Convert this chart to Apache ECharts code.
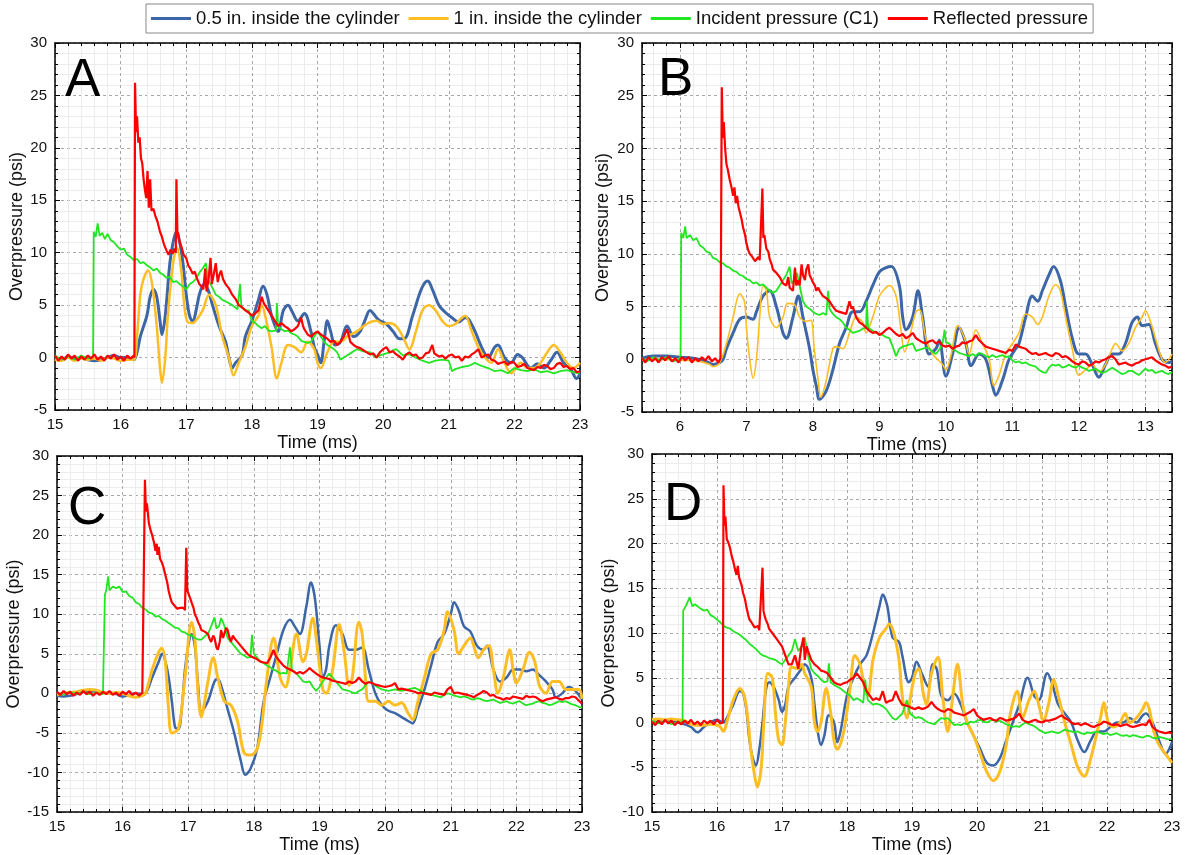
<!DOCTYPE html>
<html lang="en">
<head>
    <meta charset="UTF-8">
    <title>Overpressure</title>
    <style>
        html, body { margin: 0; padding: 0; background: #fff; }
        #main { width: 1186px; height: 855px; }
    </style>
</head>
<body>
    <div id="main"></div>
    <script src="https://cdn.jsdelivr.net/npm/echarts@6/dist/echarts.min.js"></script>
    <script>
        // series names (legend)
        const seriesNames = ['0.5 in. inside the cylinder', '1 in. inside the cylinder', 'Incident pressure (C1)', 'Reflected pressure'];
        const panelLetters = ['A', 'B', 'C', 'D'];

        // ---- panel A : [time ms, psi]
        const aBlue = [[15,0],[15.1,-0.2],[15.2,0.1],[15.3,-0.1],[15.4,0],[15.5,-0.2],[15.6,-0.3],[15.7,-0.2],[15.8,0],[15.9,0.2],[16.0,0],[16.1,0],[16.2,-0.2],[16.25,0.5],[16.3,2],[16.4,4],[16.45,5.8],[16.5,6.5],[16.55,5.8],[16.6,3.5],[16.63,2.2],[16.68,4],[16.75,9],[16.8,11],[16.85,12],[16.9,11],[16.95,9],[17.0,6],[17.05,4],[17.1,3.4],[17.15,4.5],[17.2,6],[17.27,7],[17.33,6.5],[17.4,5],[17.5,3],[17.6,1.5],[17.65,0],[17.7,-1],[17.75,-0.5],[17.85,0.2],[17.9,2],[18.0,3.5],[18.1,5.5],[18.17,6.8],[18.23,6],[18.3,4],[18.4,2.5],[18.48,4.5],[18.55,5],[18.62,4.3],[18.7,3.5],[18.8,4.2],[18.9,2.5],[18.95,1],[19.0,0.3],[19.05,-0.5],[19.1,1.5],[19.15,3.5],[19.2,2.5],[19.27,1.2],[19.35,1.5],[19.45,3],[19.55,2],[19.65,2.5],[19.72,3.5],[19.8,4.5],[19.9,3.8],[19.95,3.5],[20.05,3.2],[20.15,2.5],[20.25,1.8],[20.32,1.8],[20.45,4],[20.55,6],[20.62,7],[20.68,7.3],[20.75,6.5],[20.85,5],[20.95,4.3],[21.05,3.8],[21.15,3.4],[21.25,3.8],[21.3,3.7],[21.4,2.5],[21.5,1],[21.6,0],[21.7,1],[21.75,1.2],[21.85,0],[21.95,-0.5],[22.05,0.3],[22.12,0],[22.25,-1],[22.35,-0.6],[22.45,-1],[22.55,-0.3],[22.65,0.5],[22.75,-0.5],[22.85,-1],[22.95,-2],[23.0,-1.5]];
        const aYellow = [[15,-0.2],[15.1,-0.3],[15.2,0],[15.3,-0.3],[15.4,-0.1],[15.5,-0.2],[15.6,-0.1],[15.7,-0.3],[15.8,0],[15.9,-0.1],[16.0,-0.3],[16.1,-0.2],[16.2,-0.2],[16.25,2],[16.3,6],[16.35,7.5],[16.42,8.3],[16.48,7],[16.55,3],[16.6,-1],[16.63,-2.4],[16.68,0],[16.72,4],[16.8,9],[16.86,10.5],[16.92,8.5],[16.97,5],[17.02,3.4],[17.1,3.3],[17.18,3.8],[17.25,4.5],[17.35,6],[17.45,5],[17.55,2],[17.65,0],[17.72,-1.7],[17.8,-0.5],[17.9,1],[18.0,3],[18.1,4],[18.15,5],[18.22,3.5],[18.3,1],[18.38,-2],[18.45,-0.5],[18.55,1.2],[18.65,1],[18.75,0.5],[18.85,1.5],[18.95,0.8],[19.0,-0.5],[19.05,-1],[19.15,0.5],[19.25,1.5],[19.35,1.5],[19.45,2],[19.6,2.5],[19.75,3.2],[19.9,3.5],[20.0,3.2],[20.1,3.3],[20.2,3],[20.3,2],[20.4,0.8],[20.5,2.5],[20.6,4.5],[20.7,5],[20.8,4.5],[20.9,3.5],[21.0,3],[21.1,3.2],[21.2,3.8],[21.25,4],[21.35,2.5],[21.45,1],[21.55,0],[21.65,-0.5],[21.75,0.8],[21.85,-0.5],[21.95,-1.5],[22.1,-0.5],[22.2,-1],[22.3,-1],[22.4,-0.5],[22.5,0.5],[22.6,1.2],[22.7,0.5],[22.8,-0.5],[22.9,-1],[23.0,-0.5]];
        const aGreen = [[15,0.2],[15.1,-0.2],[15.2,0.1],[15.3,-0.2],[15.4,0.2],[15.5,-0.1],[15.58,0.1],[15.59,12],[15.62,11.5],[15.65,12.8],[15.68,11.6],[15.72,11.9],[15.76,11.3],[15.8,11.8],[15.85,11.2],[15.9,11],[15.95,10.6],[16.0,10.3],[16.05,10.4],[16.1,9.8],[16.15,9.6],[16.2,9.3],[16.25,9.4],[16.3,9],[16.35,9.1],[16.4,8.8],[16.45,8.6],[16.5,8.3],[16.55,8.5],[16.6,8.1],[16.65,7.9],[16.7,7.6],[16.75,7.7],[16.8,7.2],[16.85,7.3],[16.9,7],[16.95,6.8],[17.0,6.5],[17.05,7],[17.1,7.2],[17.15,7.5],[17.2,8.1],[17.25,8.5],[17.3,9],[17.33,7.5],[17.37,7],[17.45,6],[17.5,5.8],[17.55,5.5],[17.62,5.3],[17.7,5],[17.78,4.6],[17.8,4.5],[17.82,7],[17.84,4.8],[17.9,4.5],[17.95,4.5],[18.0,3.5],[18.05,3.3],[18.1,3],[18.15,2.8],[18.2,3],[18.25,2.6],[18.3,2.5],[18.37,2.6],[18.38,5.2],[18.4,3],[18.45,2.7],[18.5,2.5],[18.55,2.6],[18.6,2.3],[18.65,2.2],[18.7,2],[18.75,1.6],[18.8,1.5],[18.85,1.4],[18.9,1.5],[18.95,2],[19.0,2.5],[19.05,2],[19.1,1.5],[19.15,1.2],[19.2,1],[19.25,0.8],[19.3,0.5],[19.35,-0.2],[19.4,0],[19.45,0.2],[19.5,0.4],[19.55,0.6],[19.6,0.8],[19.7,0.6],[19.8,0.5],[19.85,0.2],[19.9,0],[19.95,0.2],[20.0,0.3],[20.1,0.5],[20.15,0.7],[20.2,0.8],[20.3,0.2],[20.4,0.3],[20.5,0],[20.6,-0.3],[20.7,-0.5],[20.8,-0.3],[20.9,-0.2],[21.0,-0.3],[21.05,-1.3],[21.1,-1.1],[21.15,-1],[21.2,-0.9],[21.3,-0.8],[21.4,-0.5],[21.5,-0.8],[21.6,-1],[21.7,-1.3],[21.8,-1.2],[21.9,-1.5],[22.0,-1],[22.1,-1.2],[22.2,-1.3],[22.3,-1.1],[22.4,-1.4],[22.5,-1.3],[22.6,-1.5],[22.7,-1.3],[22.8,-1.2],[22.9,-1.4],[23.0,-1.5]];
        const aRed = [[15,0.2],[15.05,-0.3],[15.1,0.1],[15.15,-0.2],[15.2,0.3],[15.25,-0.1],[15.3,0.2],[15.35,-0.3],[15.4,0.1],[15.45,-0.2],[15.5,0.2],[15.55,-0.1],[15.6,0.3],[15.65,-0.2],[15.7,0.1],[15.75,-0.3],[15.8,0.2],[15.85,-0.1],[15.9,0.3],[15.95,-0.2],[16.0,0.1],[16.05,-0.3],[16.1,0.2],[16.15,-0.1],[16.2,0.2],[16.21,0],[16.22,26.2],[16.235,21.5],[16.25,23],[16.27,20.5],[16.29,21],[16.31,19],[16.33,18.5],[16.35,17],[16.37,16],[16.39,15.2],[16.41,17.8],[16.43,14.3],[16.45,17],[16.47,14],[16.5,14.2],[16.53,13.5],[16.56,13],[16.6,12],[16.63,11.5],[16.66,10.8],[16.7,10.2],[16.73,9.8],[16.76,10.3],[16.79,9.9],[16.82,10.4],[16.84,10],[16.85,17],[16.865,12],[16.88,11.8],[16.9,11],[16.93,10.5],[16.96,9.8],[17.0,9.5],[17.03,8.8],[17.06,8.5],[17.1,8],[17.13,8.2],[17.16,7.6],[17.2,7],[17.23,6.8],[17.26,6.5],[17.29,8.5],[17.31,6.3],[17.34,7.5],[17.37,9.5],[17.39,7],[17.42,8],[17.45,9],[17.48,7.2],[17.5,7.8],[17.53,8.3],[17.56,7.5],[17.6,7],[17.65,6.6],[17.7,6],[17.75,5.6],[17.8,5],[17.85,4.8],[17.9,4.5],[17.95,4.3],[18.0,4],[18.05,4.2],[18.1,4.5],[18.15,5.8],[18.18,5.2],[18.2,5],[18.25,4.5],[18.3,4],[18.35,3.5],[18.4,3],[18.45,3.3],[18.5,3],[18.55,2.8],[18.6,2.5],[18.65,2.7],[18.7,3],[18.75,3.8],[18.78,3],[18.8,2.7],[18.85,2.2],[18.9,2],[18.95,2.3],[19.0,2.5],[19.05,2.2],[19.1,2],[19.15,1.8],[19.2,1.5],[19.25,1.6],[19.3,1.2],[19.35,1.5],[19.4,2],[19.45,2.7],[19.48,2],[19.5,1.5],[19.55,1.2],[19.6,1],[19.65,0.9],[19.7,0.7],[19.75,0.5],[19.8,0.3],[19.85,0.4],[19.9,0],[19.95,0.5],[20.0,0.8],[20.05,1],[20.1,0.5],[20.15,0.6],[20.2,0.3],[20.25,0.1],[20.3,-0.2],[20.35,0.3],[20.4,0.5],[20.45,0.2],[20.5,0.3],[20.55,-0.1],[20.6,0],[20.65,0.4],[20.7,0.5],[20.75,1.2],[20.78,0.4],[20.8,0.5],[20.85,0.1],[20.9,0.2],[20.95,-0.1],[21.0,0.2],[21.05,0.3],[21.1,0],[21.15,0.1],[21.2,-0.3],[21.25,0.1],[21.3,0],[21.35,0.3],[21.4,0.5],[21.45,0.8],[21.5,0],[21.55,0.2],[21.6,0.3],[21.65,-0.2],[21.7,-0.3],[21.75,-0.6],[21.8,-0.5],[21.85,-0.4],[21.9,-0.7],[21.95,-0.4],[22.0,-0.5],[22.05,-0.9],[22.1,-0.8],[22.15,-0.6],[22.2,-1],[22.25,-1.1],[22.3,-1.2],[22.35,-0.9],[22.4,-1],[22.45,-0.7],[22.5,-0.8],[22.55,-1.1],[22.6,-1],[22.65,-0.6],[22.7,-0.5],[22.75,-0.9],[22.8,-0.8],[22.85,-1.1],[22.9,-1],[22.95,-1.4],[23.0,-1.3]];

        // ---- panel B
        const bBlue = [[5.43,0.1],[5.6,0.3],[5.8,0.3],[6.0,0.2],[6.2,0.1],[6.4,-0.2],[6.5,-0.5],[6.6,-0.3],[6.65,0],[6.7,1],[6.8,2.5],[6.9,3.8],[7.0,4],[7.1,3.8],[7.15,4.5],[7.25,6],[7.35,6.5],[7.45,5],[7.55,2.5],[7.6,2],[7.7,4],[7.78,6],[7.85,4],[7.95,1],[8.0,-1],[8.05,-2.5],[8.1,-3.8],[8.2,-3],[8.3,-1],[8.4,1.5],[8.5,3],[8.6,4.5],[8.7,4.5],[8.8,5.5],[8.9,7],[9.0,8.3],[9.1,8.7],[9.18,8.8],[9.3,7],[9.35,4],[9.4,2.8],[9.5,4],[9.58,6.5],[9.65,4],[9.75,0.5],[9.85,1],[9.9,1.8],[10.0,-1.6],[10.1,0.5],[10.2,3],[10.3,1.5],[10.38,-0.6],[10.5,0.5],[10.6,0],[10.7,-2.5],[10.75,-3.4],[10.85,-2],[10.95,0],[11.05,1],[11.1,1.5],[11.2,4],[11.3,6],[11.38,5.5],[11.45,6.5],[11.55,8],[11.62,8.8],[11.72,7.5],[11.8,5],[11.9,2],[12.0,0.5],[12.1,0.5],[12.2,-0.5],[12.3,-1.7],[12.4,-0.5],[12.5,0.5],[12.6,0.5],[12.7,1.5],[12.8,3.5],[12.88,4],[12.95,3.2],[13.05,3.3],[13.15,1.5],[13.25,0],[13.35,-0.3],[13.4,-0.2]];
        const bYellow = [[5.43,-0.1],[5.7,0],[6.0,-0.1],[6.3,-0.2],[6.45,-0.5],[6.5,-0.7],[6.6,-0.3],[6.7,1.5],[6.8,4],[6.9,6.2],[6.97,5.5],[7.0,3],[7.05,0],[7.1,-1.8],[7.15,0],[7.2,4],[7.25,7],[7.3,6.5],[7.35,4],[7.45,3],[7.55,4],[7.62,5.3],[7.72,5.2],[7.8,4],[7.9,3.6],[7.97,3.7],[8.02,1],[8.08,-2],[8.12,-3.6],[8.2,-2],[8.3,1],[8.35,1.2],[8.45,1],[8.55,2.5],[8.65,4],[8.75,3.5],[8.8,2.5],[8.9,4],[9.0,6],[9.1,6.8],[9.15,7],[9.25,6],[9.32,3],[9.38,0.7],[9.45,2],[9.55,4.5],[9.6,4.7],[9.7,2],[9.8,0.5],[9.95,-0.5],[10.0,-1],[10.08,0.5],[10.18,3.2],[10.28,2],[10.35,0.5],[10.45,2.8],[10.55,1.5],[10.65,0],[10.72,-2.5],[10.8,-1.5],[10.9,0.5],[11.0,1.5],[11.1,2.5],[11.2,4.3],[11.3,4],[11.38,3.3],[11.45,4],[11.55,6],[11.65,7.1],[11.72,6.5],[11.8,4],[11.9,1],[12.0,-1.5],[12.1,-1],[12.2,-0.5],[12.3,-1.2],[12.4,-0.5],[12.5,1],[12.55,1.5],[12.65,0.8],[12.75,1.5],[12.85,3],[12.95,4],[13.0,4.6],[13.08,3.5],[13.15,2],[13.25,0],[13.3,-0.3],[13.4,0.5]];
        const bGreen = [[5.43,0.1],[5.5,-0.2],[5.6,0.2],[5.7,-0.1],[5.8,0.2],[5.9,-0.2],[6.0,0.1],[6.01,0.3],[6.02,12],[6.05,11.5],[6.08,12.6],[6.1,11.5],[6.15,11.8],[6.2,11.3],[6.25,11.5],[6.3,10.8],[6.35,10.6],[6.4,10.2],[6.45,10.1],[6.5,9.6],[6.55,9.5],[6.6,9.2],[6.65,9.1],[6.7,8.8],[6.75,8.7],[6.8,8.4],[6.85,8.3],[6.9,8],[6.95,7.9],[7.0,7.6],[7.05,7.5],[7.1,7.2],[7.15,7.3],[7.2,7],[7.25,7.1],[7.3,6.8],[7.35,6.5],[7.4,6.3],[7.45,6.5],[7.5,7],[7.55,7.5],[7.6,8],[7.65,8.8],[7.68,7.2],[7.72,7.5],[7.76,8.2],[7.8,7],[7.85,5.5],[7.9,5],[7.95,4.8],[8.0,4.5],[8.05,4.3],[8.1,4.2],[8.15,4.4],[8.2,4.2],[8.22,4.3],[8.23,6.5],[8.25,4.8],[8.3,4.3],[8.35,4],[8.4,3.8],[8.45,3.5],[8.5,3],[8.55,2.8],[8.6,2.5],[8.65,2.6],[8.7,2.7],[8.75,2.9],[8.8,3],[8.81,5.5],[8.83,3],[8.9,2.7],[8.95,2.5],[9.0,2.4],[9.05,2.3],[9.1,2.1],[9.15,2],[9.2,1.2],[9.25,0.3],[9.3,1],[9.35,1.2],[9.4,1.3],[9.45,1.4],[9.5,1.5],[9.55,0.8],[9.6,0.9],[9.65,1],[9.7,1.1],[9.75,1],[9.8,0.7],[9.85,0.5],[9.9,0.9],[9.95,1.5],[9.98,2.8],[10.0,1.6],[10.05,1.5],[10.1,1],[10.15,0.8],[10.2,0.6],[10.25,0.5],[10.3,0.4],[10.35,0.3],[10.4,0.5],[10.45,0.3],[10.5,0.6],[10.55,0.5],[10.6,0.3],[10.65,0.2],[10.7,0.4],[10.75,0.2],[10.8,0.3],[10.85,0.4],[10.9,0.2],[10.95,0.3],[11.0,-0.1],[11.05,-0.3],[11.1,-0.2],[11.15,-0.4],[11.2,-0.3],[11.25,-0.5],[11.3,-0.6],[11.35,-0.7],[11.4,-1],[11.45,-1.2],[11.5,-1.3],[11.55,-0.8],[11.6,-0.5],[11.65,-0.6],[11.7,-0.5],[11.75,-0.8],[11.8,-0.7],[11.85,-0.5],[11.9,-0.7],[11.95,-0.8],[12.0,-0.6],[12.05,-0.8],[12.1,-0.9],[12.15,-1.1],[12.2,-1],[12.25,-0.9],[12.3,-1.1],[12.35,-1.3],[12.4,-1.2],[12.45,-1],[12.5,-0.8],[12.55,-1],[12.6,-1.2],[12.65,-1.4],[12.7,-1.3],[12.75,-1.1],[12.8,-1.1],[12.85,-1.3],[12.9,-1.5],[12.95,-1.2],[13.0,-0.9],[13.05,-1.1],[13.1,-1],[13.15,-1.3],[13.2,-1.2],[13.25,-1.1],[13.3,-1.3],[13.35,-1.4],[13.4,-1.2]];
        const bRed = [[5.43,0.1],[5.48,-0.3],[5.53,0.2],[5.58,-0.2],[5.63,0.1],[5.68,-0.3],[5.73,0.2],[5.78,-0.1],[5.83,0.3],[5.88,-0.2],[5.93,0.1],[5.98,-0.3],[6.03,0.2],[6.08,-0.1],[6.13,0.2],[6.18,-0.3],[6.23,0.1],[6.28,-0.2],[6.33,0.2],[6.38,-0.1],[6.43,0.3],[6.48,-0.2],[6.53,0.1],[6.58,-0.3],[6.61,0.1],[6.62,0],[6.63,25.8],[6.645,21],[6.66,22.5],[6.68,20],[6.7,18.5],[6.72,18],[6.75,17],[6.78,16.2],[6.8,15.5],[6.82,16.3],[6.84,14.8],[6.86,15.5],[6.88,14.5],[6.9,14],[6.93,13.2],[6.95,12.5],[6.98,11.8],[7.0,11],[7.03,10.3],[7.05,10],[7.08,9.8],[7.1,9.6],[7.13,9.3],[7.15,9.4],[7.18,9.7],[7.2,9.4],[7.22,9.5],[7.24,16.2],[7.255,11.5],[7.27,11.8],[7.3,10.5],[7.33,10.2],[7.35,9.5],[7.38,9],[7.4,8.5],[7.45,8.2],[7.5,7.8],[7.55,7.2],[7.6,7],[7.63,7.8],[7.65,6.8],[7.7,6.5],[7.73,8.7],[7.75,7],[7.78,7.5],[7.8,7],[7.83,9],[7.85,8],[7.88,7.5],[7.9,8.5],[7.93,9],[7.95,8],[7.98,7.6],[8.0,7.3],[8.03,7],[8.05,6.5],[8.08,6.8],[8.1,6.5],[8.15,6],[8.2,5.8],[8.25,5.5],[8.3,5],[8.35,4.6],[8.4,4.5],[8.45,4.4],[8.5,4.3],[8.55,5.5],[8.58,4.8],[8.6,5],[8.65,4],[8.7,3.5],[8.75,3.3],[8.8,3],[8.85,2.7],[8.9,2.5],[8.95,2.6],[9.0,2.3],[9.05,2.5],[9.1,2.8],[9.15,3],[9.2,2.7],[9.25,2.4],[9.3,2.2],[9.35,2.4],[9.4,2],[9.45,2.2],[9.5,2.5],[9.55,2],[9.6,1.8],[9.65,1.6],[9.7,1.5],[9.75,1.7],[9.8,1.8],[9.85,1.5],[9.9,1.7],[9.95,1.3],[10.0,1.2],[10.05,1.3],[10.1,1],[10.15,1.2],[10.2,1.3],[10.25,1.6],[10.3,1.5],[10.35,1.7],[10.4,1.8],[10.45,2.3],[10.5,1.8],[10.55,1.5],[10.6,1.2],[10.65,1.1],[10.7,1],[10.75,0.9],[10.8,0.8],[10.85,0.7],[10.9,0.6],[10.95,0.9],[11.0,0.8],[11.05,1.4],[11.1,1.2],[11.15,1.1],[11.2,1],[11.25,0.7],[11.3,0.5],[11.35,0.6],[11.4,0.4],[11.45,0.5],[11.5,0.6],[11.55,0.4],[11.6,0.3],[11.65,0.6],[11.7,0.5],[11.75,0.2],[11.8,0.3],[11.85,0.1],[11.9,-0.2],[11.95,-0.4],[12.0,-0.5],[12.05,-0.2],[12.1,-0.3],[12.15,-0.6],[12.2,-0.5],[12.25,-0.2],[12.3,-0.3],[12.35,-0.1],[12.4,0],[12.45,0.2],[12.5,0.3],[12.55,0],[12.6,-0.5],[12.65,-0.4],[12.7,-0.3],[12.75,-0.5],[12.8,-0.6],[12.85,-0.4],[12.9,-0.3],[12.95,-0.1],[13.0,0],[13.05,0.1],[13.1,0.2],[13.15,-0.1],[13.2,-0.3],[13.25,-0.5],[13.3,-0.6],[13.35,-0.8],[13.4,-0.7]];

        // ---- panel C
        const cBlue = [[15,-0.3],[15.1,-0.4],[15.2,-0.3],[15.3,-0.1],[15.4,0.2],[15.5,0.3],[15.6,0.2],[15.7,0.1],[15.8,0],[15.9,-0.1],[16.0,-0.4],[16.1,-0.2],[16.2,0],[16.3,-0.1],[16.35,0],[16.45,2],[16.55,4],[16.6,5],[16.68,3],[16.75,-1],[16.8,-4.3],[16.85,-4.5],[16.9,-2],[16.95,3],[17.0,6],[17.05,7.5],[17.1,6],[17.15,1],[17.2,-2.3],[17.3,-1],[17.4,1.5],[17.45,1.8],[17.5,1],[17.6,-2],[17.7,-5],[17.8,-8.5],[17.87,-10.3],[17.95,-9.5],[18.05,-7],[18.15,-1],[18.25,2],[18.35,5],[18.45,8],[18.55,9.3],[18.62,8.5],[18.7,7.5],[18.8,11],[18.87,14],[18.93,12],[19.0,6],[19.05,2],[19.1,3],[19.15,6],[19.25,8.6],[19.35,7.5],[19.45,5.5],[19.55,5.5],[19.65,5.8],[19.75,3],[19.85,0],[19.95,-1.5],[20.05,-2.2],[20.15,-2.5],[20.25,-3],[20.35,-3.5],[20.42,-3.8],[20.5,-2],[20.6,0.5],[20.7,3.5],[20.8,6.5],[20.9,7.5],[21.0,10],[21.05,11.5],[21.12,10.5],[21.2,8.5],[21.3,7.8],[21.4,6],[21.5,5.5],[21.55,6],[21.65,3],[21.75,1.5],[21.85,2],[21.95,3],[22.05,3],[22.15,2.8],[22.25,3],[22.35,2.3],[22.45,1.5],[22.55,0.5],[22.6,-0.5],[22.7,0],[22.8,0.8],[22.9,0.3],[23.0,-0.8]];
        const cYellow = [[15,-0.2],[15.1,0],[15.2,0.1],[15.3,0.2],[15.4,0.4],[15.5,0.5],[15.6,0.4],[15.7,0.1],[15.8,0],[15.9,0.1],[16.0,0],[16.1,-0.3],[16.2,-0.5],[16.3,-0.3],[16.35,0],[16.45,3],[16.55,5.2],[16.6,5.7],[16.65,4],[16.7,-2],[16.75,-5],[16.85,-4.5],[16.95,2],[17.05,9],[17.1,7],[17.15,0],[17.2,-3],[17.25,-1],[17.3,1.5],[17.38,4.5],[17.45,2],[17.55,-1],[17.65,-1.5],[17.75,-3.5],[17.85,-7.5],[17.95,-7.8],[18.05,-7],[18.12,-4],[18.2,2],[18.3,7],[18.4,2],[18.48,0.8],[18.55,3],[18.65,7.5],[18.75,4],[18.8,5],[18.9,9.5],[18.95,7],[19.05,0.5],[19.1,0],[19.2,3],[19.3,8.7],[19.38,5],[19.45,1],[19.5,2],[19.6,9],[19.65,7.5],[19.7,2],[19.75,-1],[19.85,-1],[19.95,-1.5],[20.05,-1],[20.15,-1.5],[20.25,-1.2],[20.35,-2.5],[20.42,-3.3],[20.5,-1],[20.6,2],[20.7,5],[20.8,5.5],[20.9,8],[20.95,10.3],[21.05,8],[21.12,5],[21.2,6],[21.3,7],[21.35,6],[21.42,4.5],[21.5,5.5],[21.58,6],[21.65,3],[21.72,0],[21.8,2],[21.9,5.5],[21.95,3],[22.0,1.3],[22.1,3],[22.2,5.2],[22.28,4],[22.35,1],[22.45,0],[22.55,1.5],[22.65,1.5],[22.75,0.5],[22.85,0.5],[22.95,0.5],[23.0,-0.7]];
        const cGreen = [[15,0.1],[15.1,-0.2],[15.2,0.2],[15.3,-0.1],[15.4,0.2],[15.5,-0.1],[15.6,0.1],[15.7,-0.1],[15.72,0.1],[15.73,12.5],[15.75,13],[15.78,14.8],[15.8,13],[15.85,13.5],[15.9,13.3],[15.95,13.5],[16.0,12.8],[16.05,12.9],[16.1,12.3],[16.15,12.1],[16.2,11.5],[16.25,11.3],[16.3,10.8],[16.35,10.6],[16.4,10.2],[16.45,10.1],[16.5,9.7],[16.55,9.8],[16.6,9.4],[16.65,9.2],[16.7,8.9],[16.75,8.6],[16.8,8.3],[16.85,8.2],[16.9,7.8],[16.95,7.7],[17.0,7.4],[17.05,7.3],[17.1,7],[17.15,6.8],[17.2,6.8],[17.25,7.2],[17.3,7.5],[17.35,8.5],[17.4,9.6],[17.43,8.2],[17.47,8.5],[17.5,9.5],[17.53,9],[17.55,8.5],[17.6,7],[17.65,6.5],[17.7,6],[17.75,5.5],[17.8,5],[17.85,4.8],[17.9,4.5],[17.95,4.6],[17.97,7.4],[18.0,5],[18.05,4.5],[18.1,4],[18.15,3.8],[18.2,3.5],[18.25,3.3],[18.3,3],[18.35,2.8],[18.4,2.5],[18.45,2.6],[18.5,2.5],[18.53,2.7],[18.55,5.8],[18.58,3],[18.6,2.8],[18.65,2.5],[18.7,2],[18.75,1.5],[18.8,1.4],[18.85,1.5],[18.9,0.8],[18.95,0.3],[19.0,0.8],[19.05,1.5],[19.1,2],[19.15,2.5],[19.2,2],[19.25,1.5],[19.3,1],[19.35,0.5],[19.4,0.4],[19.45,0.3],[19.5,0.1],[19.55,0],[19.6,0.3],[19.65,0.5],[19.7,1],[19.75,1.5],[19.8,1.3],[19.85,1],[19.9,0.7],[19.95,0.5],[20.0,0.4],[20.05,0.3],[20.1,0.4],[20.15,0.5],[20.2,0.4],[20.25,0.3],[20.3,0.4],[20.35,0.5],[20.4,0.6],[20.45,0.7],[20.5,0.5],[20.55,0.3],[20.6,0.1],[20.65,0],[20.7,-0.2],[20.75,-0.3],[20.8,-0.4],[20.85,-0.5],[20.9,-0.2],[20.95,0],[21.0,-0.1],[21.05,-0.3],[21.1,-0.4],[21.15,-0.5],[21.2,-0.4],[21.25,-0.5],[21.3,-0.7],[21.35,-0.8],[21.4,-0.6],[21.45,-0.7],[21.5,-0.9],[21.55,-1],[21.6,-0.9],[21.65,-0.8],[21.7,-1],[21.75,-1.2],[21.8,-1.1],[21.85,-1],[21.9,-1.2],[21.95,-1.3],[22.0,-1.1],[22.05,-1],[22.1,-1.3],[22.15,-1.5],[22.2,-1.4],[22.25,-1.3],[22.3,-1.1],[22.35,-1],[22.4,-1.2],[22.45,-1.3],[22.5,-1.5],[22.55,-1.4],[22.6,-1.2],[22.65,-1],[22.7,-1.1],[22.75,-1],[22.8,-1.2],[22.85,-1.4],[22.9,-1.5],[22.95,-1.7],[23.0,-1.8]];
        const cRed = [[15,0.2],[15.05,-0.2],[15.1,0.3],[15.15,-0.1],[15.2,0.2],[15.25,-0.3],[15.3,0.1],[15.35,-0.2],[15.4,0.3],[15.45,-0.1],[15.5,0.2],[15.55,-0.3],[15.6,0.1],[15.65,-0.2],[15.7,0.2],[15.75,-0.1],[15.8,0.3],[15.85,-0.2],[15.9,0.1],[15.95,-0.3],[16.0,0.2],[16.05,-0.1],[16.1,0.3],[16.15,-0.2],[16.2,0.1],[16.25,-0.3],[16.3,0.1],[16.33,0],[16.34,27],[16.355,23],[16.37,24],[16.4,21.5],[16.43,20.5],[16.45,20],[16.48,19],[16.5,18],[16.52,18.9],[16.53,17.5],[16.55,18.5],[16.57,17],[16.6,16.5],[16.62,16],[16.65,15],[16.68,14],[16.7,13],[16.73,12],[16.75,11.5],[16.78,11.2],[16.8,11],[16.83,10.7],[16.85,10.5],[16.88,10.8],[16.9,10.6],[16.93,10.8],[16.95,10.5],[16.97,18.4],[16.985,13],[17.0,13],[17.03,12],[17.05,11.5],[17.08,10.8],[17.1,10],[17.13,9.5],[17.15,9],[17.18,8.5],[17.2,8],[17.25,7.8],[17.3,7.5],[17.33,6.8],[17.35,6.5],[17.38,7.3],[17.4,7],[17.43,5.8],[17.45,5.5],[17.48,6.5],[17.5,8],[17.53,7],[17.55,7.2],[17.58,8.3],[17.6,8],[17.63,7],[17.65,6.5],[17.68,7.3],[17.7,7],[17.75,6.5],[17.8,6],[17.85,5.5],[17.9,5],[17.95,4.7],[18.0,4.5],[18.05,4.3],[18.1,4],[18.15,3.9],[18.2,3.8],[18.25,4.5],[18.3,5.5],[18.33,4.8],[18.35,4.5],[18.4,4],[18.45,3.5],[18.5,3.2],[18.55,3],[18.6,2.8],[18.65,2.5],[18.7,2.7],[18.75,2.5],[18.8,2.8],[18.85,3.2],[18.9,2.8],[18.95,2.5],[19.0,2.2],[19.05,2],[19.1,1.9],[19.15,1.8],[19.2,1.6],[19.25,1.5],[19.3,1.4],[19.35,1.3],[19.4,1.2],[19.45,1.5],[19.5,1.3],[19.55,1.5],[19.6,2],[19.65,1.5],[19.7,1.2],[19.75,1.4],[19.8,1.3],[19.85,1.1],[19.9,1],[19.95,0.9],[20.0,0.8],[20.05,0.9],[20.1,1],[20.15,1.3],[20.2,0.5],[20.25,0.6],[20.3,0.5],[20.35,0.4],[20.4,0.3],[20.45,0.2],[20.5,0],[20.55,0.1],[20.6,0],[20.65,-0.1],[20.7,-0.2],[20.75,0.1],[20.8,0],[20.85,-0.1],[20.9,-0.2],[20.95,0.5],[21.0,0.8],[21.03,0.3],[21.05,0],[21.1,0.1],[21.15,0],[21.2,-0.1],[21.25,-0.2],[21.3,-0.3],[21.35,-0.5],[21.4,-0.2],[21.45,0],[21.5,0.3],[21.55,0.1],[21.6,-0.3],[21.65,-0.2],[21.7,-0.5],[21.75,-0.6],[21.8,-0.8],[21.85,-0.6],[21.9,-0.7],[21.95,-0.4],[22.0,-0.5],[22.05,-0.6],[22.1,-0.7],[22.15,-0.3],[22.2,-0.5],[22.25,-0.4],[22.3,-0.5],[22.35,-0.8],[22.4,-1],[22.45,-0.8],[22.5,-0.7],[22.55,-0.6],[22.6,-0.5],[22.65,-0.7],[22.7,-0.8],[22.75,-0.6],[22.8,-0.6],[22.85,-0.4],[22.9,-0.5],[22.95,-0.9],[23.0,-1.3]];

        // ---- panel D
        const dBlue = [[15,0.2],[15.1,0.1],[15.2,0.2],[15.3,0.1],[15.4,0],[15.5,-0.2],[15.6,-0.5],[15.7,-1.1],[15.8,-0.5],[15.9,0],[16.0,0.3],[16.1,0],[16.15,0.5],[16.25,2],[16.35,3.5],[16.4,3.3],[16.45,1.5],[16.5,-2],[16.55,-4],[16.6,-4.8],[16.65,-3],[16.7,0],[16.75,3.5],[16.8,4.5],[16.87,4],[16.95,2.5],[17.0,1.2],[17.05,2],[17.1,4],[17.2,5],[17.3,6],[17.35,6.5],[17.45,5],[17.5,2],[17.55,-1],[17.6,-2.5],[17.65,-1.5],[17.72,0.8],[17.8,0],[17.85,-2.2],[17.9,-1],[18.0,3],[18.1,5],[18.2,6.5],[18.3,7.5],[18.4,10],[18.5,13],[18.55,14.3],[18.62,13],[18.7,9.5],[18.8,9],[18.85,7.5],[18.95,4.5],[19.0,5],[19.07,6.8],[19.15,5.5],[19.25,4],[19.32,6.5],[19.38,6],[19.45,3],[19.55,2.5],[19.65,3.2],[19.75,2],[19.85,0],[19.95,-1.5],[20.05,-3],[20.15,-4.5],[20.25,-4.8],[20.35,-4],[20.45,-2],[20.55,0],[20.65,2],[20.78,5],[20.88,3],[20.95,2.5],[21.08,5.5],[21.15,4.5],[21.25,2],[21.35,1],[21.45,0],[21.55,-2],[21.65,-3.3],[21.75,-2],[21.85,-1],[21.95,-1],[22.05,-0.5],[22.15,0],[22.25,0],[22.35,0.5],[22.45,0],[22.55,0.8],[22.6,1],[22.7,0],[22.8,-2],[22.9,-3.5],[23.0,-2.2]];
        const dYellow = [[15,0.3],[15.1,0.4],[15.2,0.3],[15.3,0.4],[15.4,0.3],[15.5,0.2],[15.6,-0.2],[15.7,-0.3],[15.8,-0.3],[15.9,-0.2],[16.0,-0.3],[16.05,-0.5],[16.1,-1],[16.15,0],[16.25,2.5],[16.35,3.8],[16.42,3],[16.48,0],[16.52,-3],[16.58,-6],[16.62,-7.2],[16.68,-5],[16.72,0],[16.78,5.5],[16.85,5],[16.9,1],[16.95,-2],[17.0,-2.5],[17.05,0],[17.1,4],[17.15,6.2],[17.25,6],[17.3,6.5],[17.35,5.5],[17.45,4],[17.5,0],[17.55,-1],[17.6,0],[17.68,3.8],[17.75,1],[17.8,-2],[17.85,-3],[17.95,-1],[18.05,4],[18.12,7.5],[18.2,6.5],[18.28,3.5],[18.32,3],[18.4,7],[18.5,9.5],[18.6,10.5],[18.65,11],[18.72,10],[18.8,7],[18.85,3],[18.92,0.5],[18.98,3],[19.05,5.5],[19.1,6],[19.18,3],[19.22,2],[19.3,5.5],[19.4,7.3],[19.47,3],[19.55,-1],[19.62,2.5],[19.7,6.5],[19.78,2],[19.85,0],[19.95,-1.5],[20.05,-3.5],[20.15,-5.5],[20.25,-6.5],[20.35,-5.5],[20.45,-2.5],[20.5,0.5],[20.58,3],[20.62,3.5],[20.7,0.5],[20.8,2.5],[20.88,3.5],[20.95,2],[21.02,0.2],[21.1,2],[21.18,4.8],[21.25,3],[21.35,0],[21.45,-2.5],[21.55,-5],[21.65,-6],[21.75,-4],[21.85,-1],[21.9,0.5],[21.95,2.2],[22.02,0],[22.1,-0.5],[22.2,0],[22.28,1],[22.35,0],[22.45,0.5],[22.55,1.5],[22.6,2.2],[22.65,1.5],[22.72,-1],[22.8,-2.5],[22.9,-3.5],[23.0,-4.5]];
        const dGreen = [[15,0.2],[15.1,-0.1],[15.2,0.2],[15.3,-0.2],[15.4,0.1],[15.47,0],[15.48,12.5],[15.52,13],[15.55,13.5],[15.58,14],[15.62,13],[15.66,13.2],[15.7,13],[15.75,12.7],[15.8,12.5],[15.85,12.6],[15.9,12],[15.95,11.8],[16.0,11.5],[16.05,11.2],[16.1,10.8],[16.15,10.6],[16.2,10.5],[16.25,10.2],[16.3,10],[16.35,9.8],[16.4,9.5],[16.45,9.2],[16.5,8.8],[16.55,8.5],[16.6,8.2],[16.65,7.8],[16.7,7.5],[16.75,7.4],[16.8,7.2],[16.85,7.1],[16.9,7],[16.95,6.7],[17.0,6.5],[17.05,7],[17.1,7.5],[17.15,8],[17.2,9.3],[17.25,8],[17.3,8.5],[17.35,9.5],[17.4,7.5],[17.45,6],[17.5,5.5],[17.55,5.2],[17.6,4.8],[17.65,4.5],[17.7,4.6],[17.72,6.6],[17.75,4.5],[17.8,4.2],[17.85,4],[17.9,3.8],[17.95,3.5],[18.0,3.2],[18.05,3],[18.1,2.5],[18.15,2.7],[18.2,2.5],[18.25,2.2],[18.27,2.4],[18.28,4.8],[18.32,2.5],[18.35,2.3],[18.4,2],[18.45,2.1],[18.5,2],[18.55,1.8],[18.6,1.5],[18.65,1],[18.7,0.5],[18.75,0.3],[18.78,0.2],[18.85,1],[18.9,2],[18.92,2.5],[18.97,1],[19.0,0.8],[19.05,0.5],[19.1,0.6],[19.15,0.5],[19.2,0.2],[19.25,0],[19.3,-0.1],[19.35,-0.2],[19.4,0.2],[19.45,0.5],[19.5,0.4],[19.55,0.5],[19.6,0.1],[19.65,-0.3],[19.7,-0.2],[19.75,-0.3],[19.8,-0.1],[19.85,-0.2],[19.9,0.1],[19.95,0],[20.0,0.2],[20.05,0.3],[20.1,0.1],[20.15,0],[20.2,0.2],[20.25,0.3],[20.3,0.1],[20.35,0.2],[20.4,0],[20.45,-0.2],[20.5,-0.3],[20.55,-0.5],[20.6,-0.4],[20.65,-0.5],[20.7,-0.2],[20.75,0],[20.8,-0.2],[20.85,-0.3],[20.9,-0.5],[20.95,-0.8],[21.0,-1],[21.05,-1.2],[21.1,-1.1],[21.15,-1],[21.2,-1.1],[21.25,-1.2],[21.3,-1],[21.35,-0.8],[21.4,-0.9],[21.45,-1],[21.5,-1.1],[21.55,-1],[21.6,-1.2],[21.65,-1.3],[21.7,-1.1],[21.75,-1.2],[21.8,-1.1],[21.85,-1],[21.9,-1.2],[21.95,-1.3],[22.0,-1.2],[22.05,-1.4],[22.1,-1.3],[22.15,-1.2],[22.2,-1.4],[22.25,-1.5],[22.3,-1.4],[22.35,-1.6],[22.4,-1.4],[22.45,-1.5],[22.5,-1.6],[22.55,-1.7],[22.6,-1.5],[22.65,-1.5],[22.7,-1.7],[22.75,-1.8],[22.8,-1.6],[22.85,-1.7],[22.9,-1.8],[22.95,-1.9],[23.0,-1.8]];
        const dRed = [[15,0.1],[15.05,-0.3],[15.1,0.2],[15.15,-0.2],[15.2,0.3],[15.25,-0.1],[15.3,0.2],[15.35,-0.3],[15.4,0.1],[15.45,-0.2],[15.5,0.2],[15.55,-0.1],[15.6,0.3],[15.65,-0.2],[15.7,0.1],[15.75,-0.3],[15.8,0.2],[15.85,-0.1],[15.9,0.2],[15.95,-0.2],[16.0,0.3],[16.05,-0.1],[16.08,0.1],[16.09,0],[16.1,26.5],[16.115,22],[16.13,23],[16.15,20.5],[16.18,20],[16.2,19.5],[16.23,18.5],[16.25,18],[16.28,17],[16.3,16.5],[16.32,17.5],[16.34,16.2],[16.35,16],[16.38,15.3],[16.4,14.5],[16.43,13.8],[16.45,13],[16.48,12],[16.5,11.5],[16.53,11.2],[16.55,11],[16.58,10.6],[16.6,10.5],[16.63,10.8],[16.65,10.3],[16.68,10.5],[16.7,17.3],[16.715,12.5],[16.73,12],[16.75,11.5],[16.78,11],[16.8,10.5],[16.85,10],[16.9,9.5],[16.95,9],[17.0,8.5],[17.05,7.5],[17.1,6.5],[17.15,6.5],[17.2,7.5],[17.25,6],[17.28,7.5],[17.3,8.5],[17.33,9.5],[17.35,7],[17.38,8.5],[17.4,8],[17.45,7],[17.5,6.5],[17.55,6.2],[17.6,5.8],[17.65,5.7],[17.7,5.5],[17.75,5],[17.8,4.5],[17.85,4.3],[17.9,4.2],[17.95,4.4],[18.0,4.5],[18.05,4.8],[18.1,5],[18.15,5.5],[18.2,5],[18.25,4.5],[18.3,3.5],[18.35,3],[18.4,2.5],[18.45,2.7],[18.5,2.5],[18.55,3.5],[18.6,2.2],[18.65,2.4],[18.7,2.5],[18.75,3.5],[18.8,2.6],[18.85,2],[18.9,1.9],[18.95,1.8],[19.0,1.6],[19.05,1.5],[19.1,1.7],[19.15,1.5],[19.2,1.6],[19.25,1.8],[19.3,2.3],[19.35,1.8],[19.4,1.5],[19.45,1.3],[19.5,1.2],[19.55,1.5],[19.6,1.4],[19.65,1.1],[19.7,1],[19.75,0.9],[19.8,0.8],[19.85,1],[19.9,1.2],[19.95,1.5],[20.0,0.8],[20.05,0.5],[20.1,0.3],[20.15,0.4],[20.2,0.5],[20.25,0.3],[20.3,0.2],[20.35,0.5],[20.4,0.4],[20.45,0.2],[20.5,0.3],[20.55,0.4],[20.6,0.6],[20.65,1],[20.7,0.3],[20.75,0.1],[20.8,0],[20.85,0.2],[20.9,0.3],[20.95,0.1],[21.0,0],[21.05,0.2],[21.1,0.2],[21.15,0.3],[21.2,0.4],[21.25,0.6],[21.3,0.8],[21.35,0.5],[21.4,0.3],[21.45,0],[21.5,-0.2],[21.55,-0.1],[21.6,-0.3],[21.65,-0.1],[21.7,-0.2],[21.75,-0.4],[21.8,-0.5],[21.85,-0.3],[21.9,-0.2],[21.95,0.1],[22.0,0],[22.05,-0.2],[22.1,-0.3],[22.15,-0.2],[22.2,-0.4],[22.25,-0.3],[22.3,-0.2],[22.35,-0.4],[22.4,-0.5],[22.45,-0.4],[22.5,-0.3],[22.55,-0.2],[22.6,-0.3],[22.65,0.3],[22.7,-0.5],[22.75,-0.8],[22.8,-1],[22.85,-1.1],[22.9,-1.2],[22.95,-1.1],[23.0,-1.2]];

        const panelData = [
            [aBlue, aYellow, aGreen, aRed],
            [bBlue, bYellow, bGreen, bRed],
            [cBlue, cYellow, cGreen, cRed],
            [dBlue, dYellow, dGreen, dRed]
        ];

        // layout of the four plots (pixels)
        const panels = [
            { left: 55, top: 43, width: 525, height: 367, xMin: 15, xMax: 23, yMin: -5, yMax: 30, nameGap: 28, lx: 65, ly: 85, widths: [3, 2.5, 1.8, 2.2] },
            { left: 642, top: 43, width: 530, height: 369, xMin: 5.43, xMax: 13.4, yMin: -5, yMax: 30, nameGap: 30, lx: 658, ly: 84, widths: [3, 1.6, 1.8, 2.2] },
            { left: 57, top: 456, width: 525, height: 356, xMin: 15, xMax: 23, yMin: -15, yMax: 30, nameGap: 29, lx: 68, ly: 513, widths: [2.5, 3, 1.8, 2.2] },
            { left: 652, top: 454, width: 520, height: 361, xMin: 15, xMax: 23, yMin: -10, yMax: 30, nameGap: 34, lx: 664, ly: 509, widths: [2.5, 3, 1.8, 2.2] }
        ];
        const colors = ['#3d66a6', '#fdbd25', '#22e622', '#ff0000'];
        const font = 'Liberation Sans, Arial, sans-serif';

        const chart = echarts.init(document.getElementById('main'));

        const grid = [], xAxis = [], yAxis = [], series = [], graphic = [];
        const tickCommon = { inside: true, length: 5, lineStyle: { color: '#000', width: 1 } };
        const minorCommon = { show: true, splitNumber: 5, length: 3, lineStyle: { color: '#000', width: 1 } };
        const axisLineCommon = { show: true, onZero: false, lineStyle: { color: '#000', width: 1.5 } };

        panels.forEach((p, i) => {
            grid.push({ left: p.left, top: p.top, width: p.width, height: p.height, containLabel: false });
            const isB = i === 1;
            const xBase = {
                gridIndex: i, type: 'value', min: p.xMin, max: p.xMax,
                axisLine: axisLineCommon, axisTick: tickCommon, minorTick: minorCommon
            };
            if (isB) { xBase.splitNumber = 8; } else { xBase.interval = 1; }
            xAxis.push(Object.assign({}, xBase, {
                position: 'bottom',
                name: 'Time (ms)', nameLocation: 'middle', nameGap: 24,
                nameTextStyle: { fontSize: 18, color: '#111', fontFamily: font },
                axisLabel: { fontSize: 15, color: '#111', margin: 7, fontFamily: font, showMinLabel: !isB, showMaxLabel: !isB },
                splitLine: { show: true, lineStyle: { color: '#a8a8a8', type: [3, 3], width: 1 } },
                minorSplitLine: { show: true, lineStyle: { color: '#ececec', width: 1 } }
            }));
            xAxis.push(Object.assign({}, xBase, {
                position: 'top', axisLabel: { show: false }, splitLine: { show: false }
            }));
            const yBase = {
                gridIndex: i, type: 'value', min: p.yMin, max: p.yMax, interval: 5,
                axisLine: axisLineCommon, axisTick: tickCommon, minorTick: minorCommon
            };
            yAxis.push(Object.assign({}, yBase, {
                position: 'left',
                name: 'Overpressure (psi)', nameLocation: 'middle', nameGap: p.nameGap,
                nameTextStyle: { fontSize: 18, color: '#111', fontFamily: font },
                axisLabel: { fontSize: 15, color: '#111', margin: 8, fontFamily: font },
                splitLine: { show: true, lineStyle: { color: '#a8a8a8', type: [3, 3], width: 1 } },
                minorSplitLine: { show: true, lineStyle: { color: '#ececec', width: 1 } }
            }));
            yAxis.push(Object.assign({}, yBase, {
                position: 'right', axisLabel: { show: false }, splitLine: { show: false }
            }));

            panelData[i].forEach((d, k) => {
                series.push({
                    name: seriesNames[k], type: 'line', data: d,
                    xAxisIndex: 2 * i, yAxisIndex: 2 * i,
                    showSymbol: false, symbol: 'none',
                    smooth: k < 2 ? 0.35 : false,
                    lineStyle: { color: colors[k], width: p.widths[k] },
                    itemStyle: { color: colors[k] },
                    z: 2 + k
                });
            });

            graphic.push({
                type: 'text', left: p.lx, top: p.ly - 30, z: 10,
                style: { text: panelLetters[i], font: '53px ' + font, fill: '#000' }
            });
        });

        chart.setOption({
            animation: false,
            backgroundColor: '#fff',
            textStyle: { fontFamily: font },
            legend: {
                data: seriesNames, top: 4, left: 146,
                icon: 'rect', itemWidth: 40, itemHeight: 3, itemGap: 9,
                padding: [5, 5, 5, 5],
                borderColor: '#888', borderWidth: 1,
                textStyle: { fontSize: 18.5, color: '#111', fontFamily: font }
            },
            grid: grid,
            xAxis: xAxis,
            yAxis: yAxis,
            series: series,
            graphic: graphic
        });
    </script>
</body>
</html>
